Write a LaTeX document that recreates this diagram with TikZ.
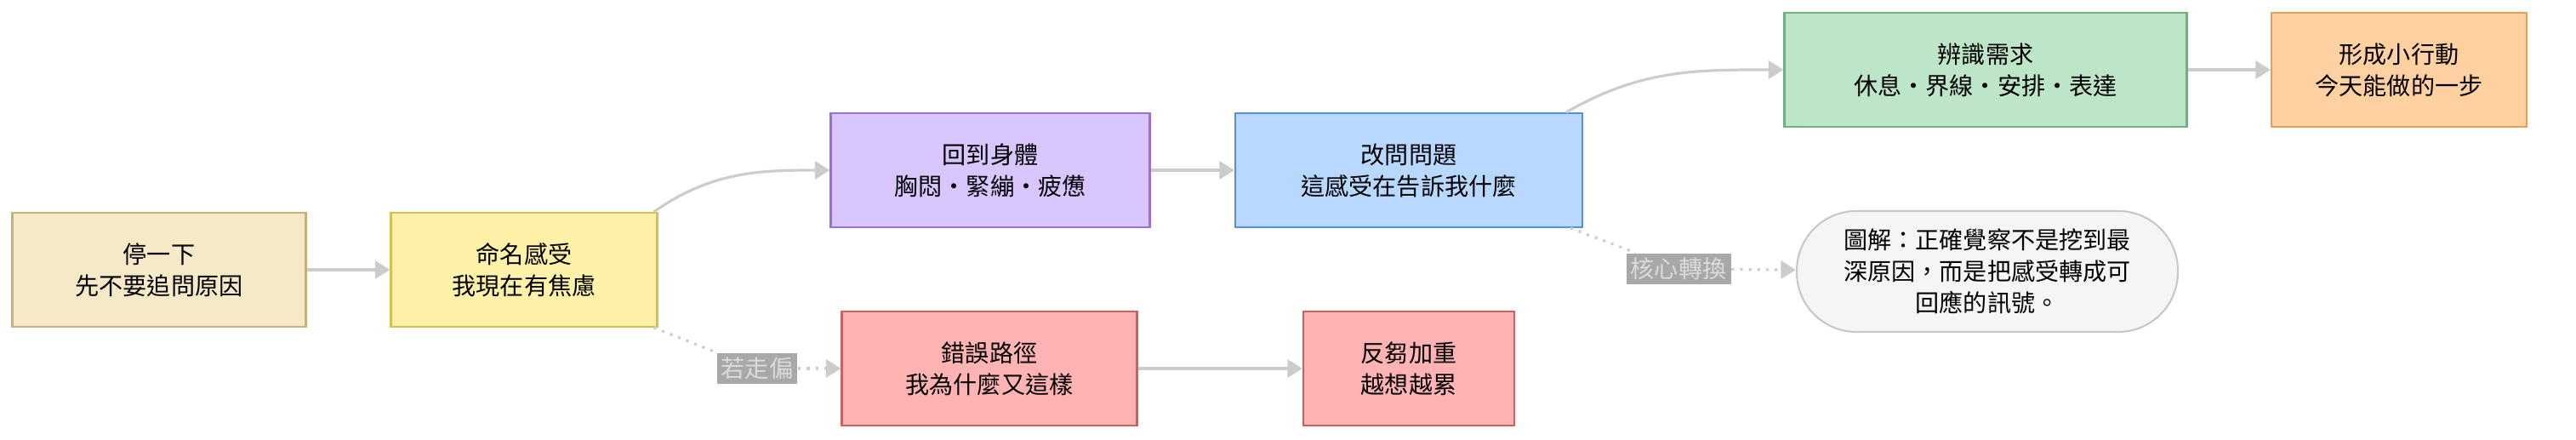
\documentclass[tikz,border=0pt]{standalone}
\usepackage{fontspec}
\setmainfont{Noto Sans CJK TC}
\usetikzlibrary{arrows.meta, positioning, calc}
\definecolor{edgegray}{HTML}{CCCCCC}
\definecolor{pausebg}{HTML}{F5E9C8}\definecolor{pauseln}{HTML}{C9B07A}
\definecolor{namebg}{HTML}{FFF2A8}\definecolor{nameln}{HTML}{D8C050}
\definecolor{bodybg}{HTML}{D9C6FF}\definecolor{bodyln}{HTML}{9970D0}
\definecolor{askbg}{HTML}{B8D8FF}\definecolor{askln}{HTML}{5B90D0}
\definecolor{needbg}{HTML}{BDE6C8}\definecolor{needln}{HTML}{70B080}
\definecolor{actbg}{HTML}{FFD0A0}\definecolor{actln}{HTML}{E0A060}
\definecolor{errbg}{HTML}{FFB3B3}\definecolor{errln}{HTML}{D06060}
\definecolor{notebg}{HTML}{F5F5F5}\definecolor{noteln}{HTML}{C8C8C8}
\definecolor{tagbg}{HTML}{A8A8A8}\definecolor{tagtx}{HTML}{DADADA}
\tikzstyle{stage} = [rectangle, text centered, align=center, inner sep=0pt, minimum height=1.34cm, font=\fontsize{8}{10.5}\selectfont, line width=0.6pt]
\tikzstyle{arrow} = [edgegray, line width=0.9pt, -{Triangle[length=5pt,width=6pt]}]
\tikzstyle{dotflow} = [arrow, dotted]
\tikzstyle{tag} = [fill=tagbg, text=tagtx, inner sep=1.5pt, font=\fontsize{8}{10}\selectfont]

\begin{document}
\begin{tikzpicture}
    \useasboundingbox (0,0) rectangle (30.28,5.17);

    % Main path
    \node (pause) [stage, minimum width=3.45cm, fill=pausebg, draw=pauseln] at (1.87,2.00) {停一下\\先不要追問原因};
    \node (name) [stage, minimum width=3.13cm, fill=namebg, draw=nameln] at (6.16,2.00) {命名感受\\我現在有焦慮};
    \node (body) [stage, minimum width=3.75cm, fill=bodybg, draw=bodyln] at (11.64,3.17) {回到身體\\胸悶・緊繃・疲憊};
    \node (ask) [stage, minimum width=4.08cm, fill=askbg, draw=askln] at (16.56,3.17) {改問問題\\這感受在告訴我什麼};
    \node (need) [stage, minimum width=4.73cm, fill=needbg, draw=needln] at (23.34,4.35) {辨識需求\\休息・界線・安排・表達};
    \node (act) [stage, minimum width=3.00cm, fill=actbg, draw=actln] at (28.20,4.35) {形成小行動\\今天能做的一步};

    % Wrong path
    \node (wrong) [stage, minimum width=3.47cm, fill=errbg, draw=errln] at (11.63,0.84) {錯誤路徑\\我為什麼又這樣};
    \node (rumin) [stage, minimum width=2.48cm, fill=errbg, draw=errln] at (16.56,0.84) {反芻加重\\越想越累};

    % Note
    \node (note) [stage, minimum width=4.48cm, minimum height=1.42cm, rounded corners=0.7cm, fill=notebg, draw=noteln] at (23.36,1.98) {圖解：正確覺察不是挖到最\\深原因，而是把感受轉成可\\回應的訊號。};

    % Labels
    \node (drift) [tag] at (8.90,0.84) {若走偏};
    \node (shift) [tag] at (19.73,2.01) {核心轉換};

    % Arrows
    \draw [arrow] (pause) -- (name);
    \draw [arrow] ($(name.north east)+(-0.05,0)$) to[out=35,in=180] (body.west);
    \draw [arrow] (body) -- (ask);
    \draw [arrow] ($(ask.north east)+(-0.2,0)$) to[out=30,in=180] (need.west);
    \draw [arrow] (need) -- (act);
    \draw [arrow] (wrong) -- (rumin);
    \draw [edgegray, line width=0.9pt, dotted] ($(name.south east)+(-0.05,0)$) -- (drift);
    \draw [dotflow] (drift) -- (wrong);
    \draw [edgegray, line width=0.9pt, dotted] ($(ask.south east)+(-0.15,0)$) -- (shift);
    \draw [dotflow] (shift) -- (note);
\end{tikzpicture}
\end{document}
